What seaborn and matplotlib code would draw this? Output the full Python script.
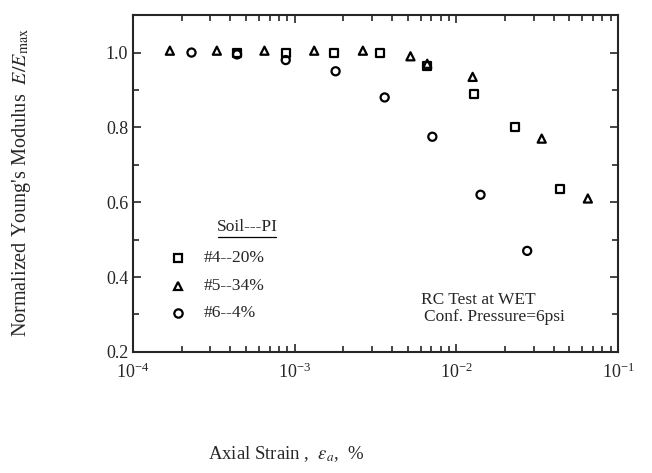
import numpy as np
import pandas as pd
import matplotlib
matplotlib.use('Agg')
import matplotlib.pyplot as plt
from matplotlib.ticker import LogLocator, MultipleLocator, NullFormatter
import seaborn as sns

# Soil #4 (PI 20%) - squares
strain_s4 = [4.4e-4, 8.8e-4, 1.74e-3, 3.38e-3, 6.6e-3, 1.29e-2, 2.31e-2, 4.4e-2]
ratio_s4 = [1.0, 1.0, 1.0, 1.0, 0.965, 0.89, 0.80, 0.635]

# Soil #5 (PI 34%) - triangles
strain_s5 = [1.69e-4, 3.3e-4, 6.5e-4, 1.32e-3, 2.64e-3, 5.2e-3, 6.6e-3, 1.26e-2, 3.37e-2, 6.5e-2]
ratio_s5 = [1.005, 1.005, 1.005, 1.005, 1.005, 0.99, 0.97, 0.935, 0.77, 0.61]

# Soil #6 (PI 4%) - circles
strain_s6 = [2.3e-4, 4.4e-4, 8.8e-4, 1.79e-3, 3.6e-3, 7.1e-3, 1.41e-2, 2.74e-2]
ratio_s6 = [1.0, 0.995, 0.98, 0.95, 0.88, 0.775, 0.62, 0.47]

soil_labels = ['#4--20%', '#5--34%', '#6--4%']

df = pd.concat([
    pd.DataFrame({'strain': strain_s4, 'ratio': ratio_s4, 'soil': soil_labels[0]}),
    pd.DataFrame({'strain': strain_s5, 'ratio': ratio_s5, 'soil': soil_labels[1]}),
    pd.DataFrame({'strain': strain_s6, 'ratio': ratio_s6, 'soil': soil_labels[2]}),
])

sns.set_style('ticks')
plt.rcParams['font.family'] = ['Liberation Serif', 'DejaVu Serif']
plt.rcParams['mathtext.fontset'] = 'stix'

fig = plt.figure(figsize=(6.52, 4.73), dpi=100)
ax = fig.add_axes([0.204, 0.256, 0.744, 0.712])

sns.scatterplot(data=df, x='strain', y='ratio', style='soil',
                markers={soil_labels[0]: 's', soil_labels[1]: '^', soil_labels[2]: 'o'},
                color='none', edgecolor='black', linewidth=1.6, s=34,
                legend=False, ax=ax)

ax.set_xscale('log')
ax.set_xlim(1e-4, 1e-1)
ax.set_ylim(0.2, 1.1)
ax.xaxis.set_major_locator(LogLocator(base=10))
ax.xaxis.set_minor_locator(LogLocator(base=10, subs=np.arange(2, 10)))
ax.xaxis.set_minor_formatter(NullFormatter())
ax.yaxis.set_minor_locator(MultipleLocator(0.1))
ax.set_yticks([0.2, 0.4, 0.6, 0.8, 1.0])
ax.set_yticklabels(['0.2', '0.4', '0.6', '0.8', '1.0'])
ax.tick_params(which='both', direction='in', top=True, right=True, labelsize=13, width=1.2)
ax.tick_params(which='major', length=6)
ax.tick_params(which='minor', length=4)
ax.tick_params(axis='x', pad=8)
for sp in ax.spines.values():
    sp.set_linewidth(1.5)
ax.set_xlabel('')
ax.set_ylabel('')

fig.text(0.033, 0.615, "Normalized Young's Modulus  $E/E_{\\mathrm{max}}$",
         rotation=90, ha='center', va='center', fontsize=14.5)
fig.text(0.319, 0.040, 'Axial Strain ,  $\\varepsilon_a$,  %', fontsize=13.5, va='center', ha='left')

# legend drawn by hand in axes coordinates
ax.text(0.235, 0.37, 'Soil---PI', transform=ax.transAxes, fontsize=12.5,
        ha='center', va='center')
ax.plot([0.175, 0.295], [0.342, 0.342], transform=ax.transAxes, color='black', lw=0.9)
leg_markers = ['s', '^', 'o']
leg_y = [0.28, 0.195, 0.117]
for m, yy, lab in zip(leg_markers, leg_y, soil_labels):
    ax.plot([0.093], [yy], marker=m, transform=ax.transAxes, ls='none',
            mfc='none', mec='black', mew=1.6, ms=6)
    ax.text(0.145, yy, lab, transform=ax.transAxes, fontsize=12.5, va='center')

ax.text(0.594, 0.155, 'RC Test at WET', transform=ax.transAxes, fontsize=12.5, va='center')
ax.text(0.600, 0.103, 'Conf. Pressure=6psi', transform=ax.transAxes, fontsize=12.5, va='center')

fig.savefig('out.png', dpi=100)
